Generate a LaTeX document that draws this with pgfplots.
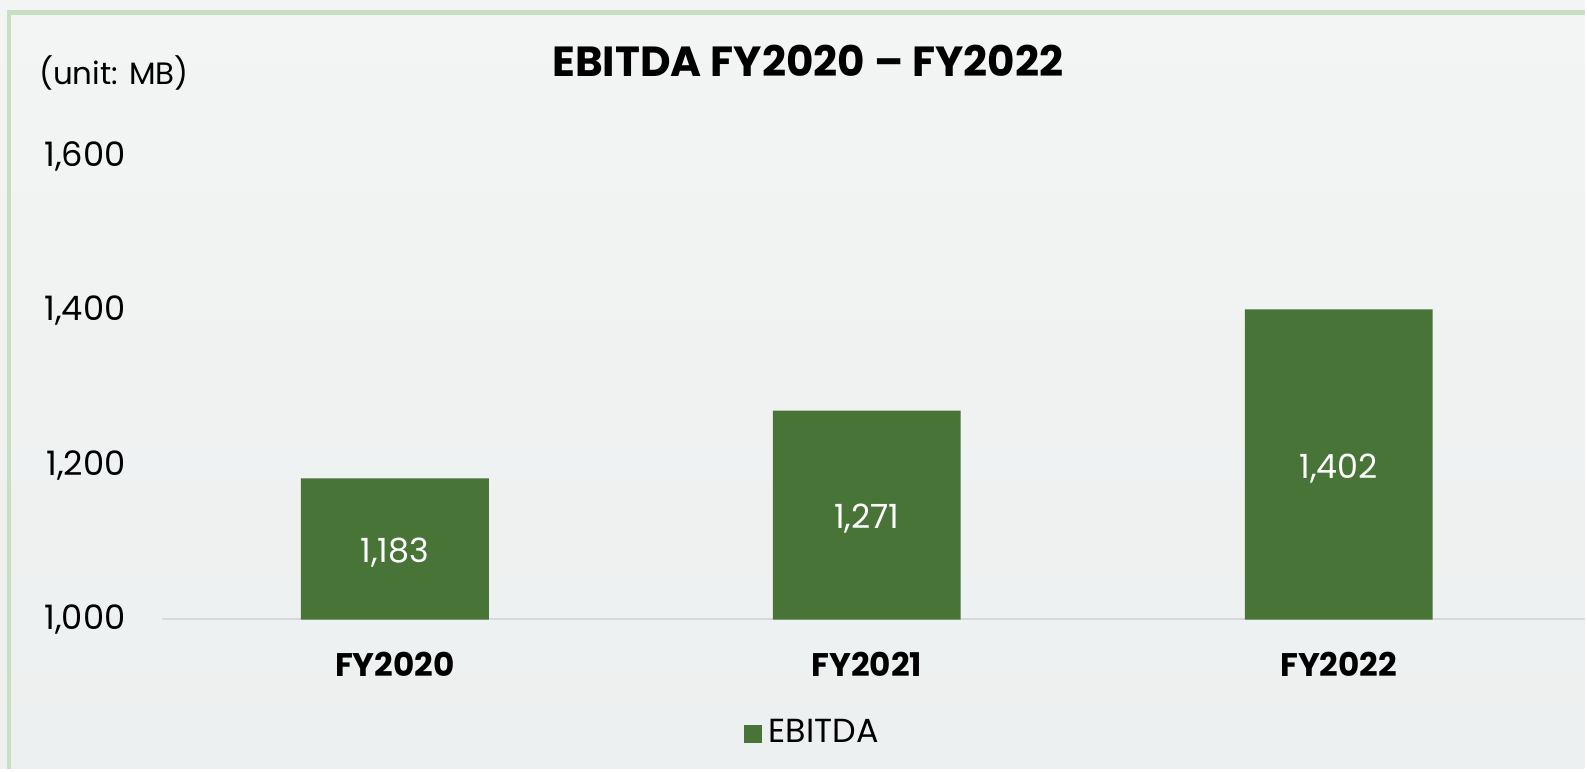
\documentclass[border=0pt]{standalone}
\usepackage{fontspec}
\setmainfont{Poppins}
\usepackage{pgfplots}
\pgfplotsset{compat=1.18}

\definecolor{bargreen}{HTML}{487537}
\definecolor{bgtop}{HTML}{F3F4F4}
\definecolor{bgbot}{HTML}{EDF0F0}
\definecolor{framegreen}{HTML}{C8E0C2}
\definecolor{baseln}{HTML}{D9D9D9}

\begin{document}
\begin{tikzpicture}[x=1cm,y=1cm]
  % background and frame
  \shade[top color=bgtop,bottom color=bgbot] (0,0) rectangle (15.87,7.70);
  \draw[framegreen,line width=1.4pt] (0.09,0) -- (0.09,7.57) -- (15.87,7.57);
  \useasboundingbox (0,0) rectangle (15.87,7.70);

  \node[font=\bfseries\fontsize{12}{14}\selectfont] at (8.09,7.09) {EBITDA FY2020 -- FY2022};
  \node[anchor=west,font=\fontsize{8.8}{10}\selectfont,inner sep=0pt] at (0.385,6.97) {(unit: MB)};

  \begin{axis}[
    at={(1.62cm,1.495cm)}, anchor=south west,
    scale only axis, width=14.25cm, height=4.635cm,
    xmin=-0.494, xmax=2.521,
    ymin=1000, ymax=1600,
    axis line style={draw=none},
    major tick length=0pt,
    xtick={0,1,2},
    xticklabels={FY2020,FY2021,FY2022},
    ytick={1000,1200,1400,1600},
    scaled y ticks=false,
    /pgf/number format/1000 sep={,},
    /pgf/number format/assume math mode=true,
    yticklabel style={font=\fontsize{9.6}{11}\selectfont, xshift=-0.24cm},
    xticklabel style={font=\bfseries\fontsize{9.3}{11}\selectfont, yshift=-0.2cm},
    ybar, bar width=0.398,
    legend style={at={(0.459,-0.247)}, anchor=center, draw=none, fill=none,
      font=\fontsize{9.5}{11}\selectfont},
    legend image code/.code={\fill[bargreen] (0cm,-0.09cm) rectangle (0.18cm,0.09cm);},
  ]
    \draw[baseln,line width=0.8pt] (rel axis cs:0,0) -- (rel axis cs:1,0);
    \addplot[fill=bargreen, draw=none,
      visualization depends on={y \as \rawy},
      nodes near coords,
      nodes near coords style={text=white, font=\fontsize{9.5}{11}\selectfont,
        anchor=center, yshift=-0.04cm, shift={(axis direction cs:0,{(1000-\rawy)/2})}},
    ] coordinates {(0,1183) (1,1271) (2,1402)};
    \addlegendentry{EBITDA}
  \end{axis}
\end{tikzpicture}
\end{document}
